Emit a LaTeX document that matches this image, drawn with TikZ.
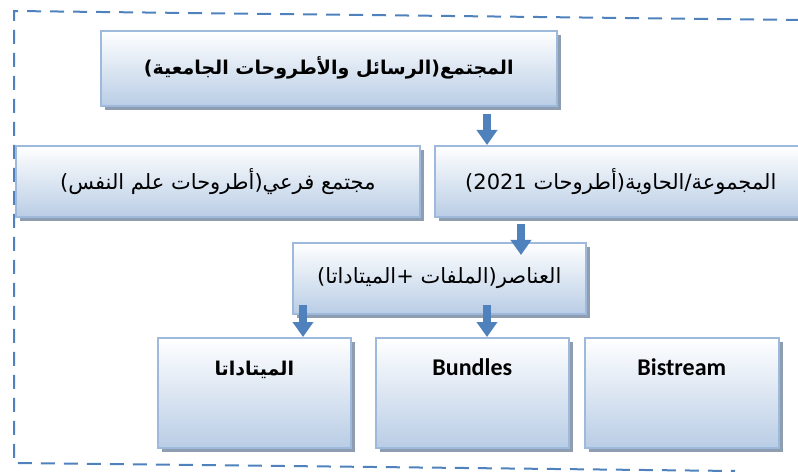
\documentclass[tikz,border=0pt]{standalone}
\usepackage{fontspec}
\setmainfont{Carlito}
\newfontfamily\arabicfont[Script=Arabic]{DejaVu Sans}
\TeXXeTstate=1
\usetikzlibrary{arrows.meta,shadows,calc}
\definecolor{bordc}{HTML}{9DB9DC}
\definecolor{fillc}{HTML}{B9CDE5}
\definecolor{shadc}{HTML}{8F9DB0}
\definecolor{arrc}{HTML}{4F81BD}
\tikzset{
  box/.style={draw=bordc, line width=1.6pt, top color=white, bottom color=fillc,
    general shadow={fill=shadc, shadow xshift=4pt, shadow yshift=-4pt},
    anchor=north west, inner sep=0pt},
  arr/.style={draw=arrc, line width=7.5pt, -{Triangle[width=20pt,length=15pt]}},
  frame/.style={draw=arrc, line width=2pt, dash pattern=on 14pt off 9pt},
  artext/.style={font=\arabicfont\fontsize{21}{25}\selectfont, inner sep=0pt},
  artextb/.style={font=\arabicfont\bfseries\fontsize{19}{23}\selectfont, inner sep=0pt},
  entext/.style={font=\bfseries\fontsize{24}{28}\selectfont, inner sep=0pt}
}
\begin{document}
\begin{tikzpicture}[x=1pt,y=-1pt]
\useasboundingbox (0,0) rectangle (798,473);
% dashed frame
\coordinate (f1) at (14,11);
\coordinate (f2) at (800,20);
\coordinate (f3) at (14,463);
\coordinate (f4) at (735,471);
\draw[frame] (f2) -- (f1) -- (f3) -- (f4);
% boxes
\node[box, minimum width=456pt, minimum height=75pt] (b1) at (100,30) {};
\node[box, minimum width=404pt, minimum height=71pt] (b2) at (15,145) {};
\node[box, minimum width=372pt, minimum height=71pt] (b3) at (434,145) {};
\node[box, minimum width=293pt, minimum height=71pt] (b4) at (292,242) {};
\node[box, minimum width=193pt, minimum height=110pt] (b5) at (157,337) {};
\node[box, minimum width=193pt, minimum height=110pt] (b6) at (375,337) {};
\node[box, minimum width=194pt, minimum height=110pt] (b7) at (584,337) {};
% texts
\node[artextb] (t1) at (b1.center) {\beginR المجتمع(الرسائل والأطروحات الجامعية)\endR};
\node[artext] (t2) at (b2.center) {\beginR مجتمع فرعي(أطروحات علم النفس)\endR};
\node[artext] (t3) at (b3.center) {\beginR المجموعة/الحاوية(أطروحات \beginL 2021\endL{})\endR};
\node[artext] (t4) at (b4.center) {\beginR العناصر(الملفات +الميتاداتا)\endR};
\node[artextb] (t5) at ($(b5.north)+(0,33)$) {\beginR الميتاداتا\endR};
\node[entext] (t6) at ($(b6.north)+(0,30)$) {Bundles};
\node[entext] (t7) at ($(b7.north)+(0,30)$) {Bistream};
% arrows
\coordinate (a1) at ($(b1.south west)+(387,7)$);
\coordinate (a2) at ($(b3.south west)+(87,6)$);
\coordinate (a3) at ($(b4.south west)+(11,-10)$);
\coordinate (a4) at ($(b4.south west)+(195,-10)$);
\draw[arr] (a1) -- (a1 |- b3.north);
\draw[arr] (a2) -- ($(a2 |- b4.north)+(0,13)$);
\draw[arr] (a3) -- (a3 |- b5.north);
\draw[arr] (a4) -- (a4 |- b6.north);
\end{tikzpicture}
\end{document}
